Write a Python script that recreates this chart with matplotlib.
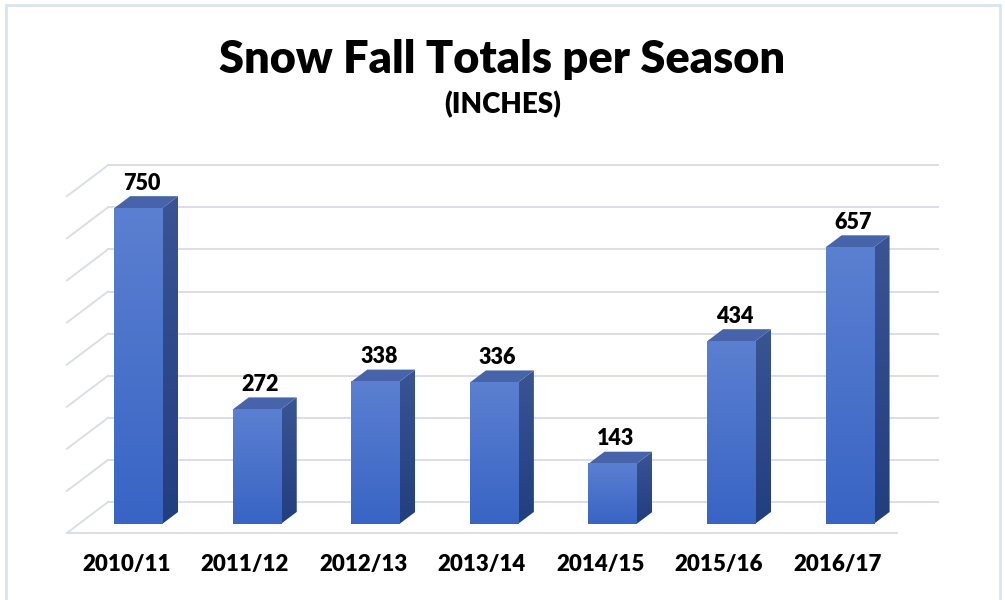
import numpy as np
import matplotlib
matplotlib.use("Agg")
import matplotlib.pyplot as plt
from matplotlib.patches import Polygon, Rectangle
from matplotlib.colors import LinearSegmentedColormap

# Data
seasons = ["2010/11", "2011/12", "2012/13", "2013/14", "2014/15", "2015/16", "2016/17"]
snowfall = [750, 272, 338, 336, 143, 434, 657]
grid_values = list(range(0, 900, 100))

title = "Snow Fall Totals per Season"
subtitle = "(INCHES)"

plt.rcParams['font.family'] = ['Lato', 'DejaVu Sans']

# oblique 3d look: depth offset in data units (category units, value units)
DX, DY = -0.346, -73.6
BAR_W = 0.405
FRONT, BACK = 0.71, 0.32

W, H = 1005, 600
PX_PER_CAT = 118.57
PX_PER_VAL = 0.421
X0_PX, Y0_PX = 108, 502   # back-wall origin in pixels

fig = plt.figure(figsize=(W / 100, H / 100), dpi=100)
ax = fig.add_axes([0, 0, 1, 1])
ax.set_xlim(-X0_PX / PX_PER_CAT, (W - X0_PX) / PX_PER_CAT)
ax.set_ylim((Y0_PX - H) / PX_PER_VAL, Y0_PX / PX_PER_VAL)
ax.axis('off')

# outer border
fig.patches.append(Rectangle((6 / W, -0.1), 994 / W, 1.1 - 5 / H, transform=fig.transFigure,
                             fill=False, ec='#dce3ec', lw=2))

grid_c = '#dadee5'
n = len(seasons)
for v in grid_values:
    ax.plot([0, n], [v, v], color=grid_c, lw=1.4, zorder=1)
    ax.plot([0, DX], [v, v + DY], color=grid_c, lw=1.4, zorder=1)
ax.plot([DX, n + DX], [DY, DY], color=grid_c, lw=1.4, zorder=1)

front_cmap = LinearSegmentedColormap.from_list('f', ['#3864c4', '#5b80d1'])
side_cmap = LinearSegmentedColormap.from_list('s', ['#213e7e', '#3a5494'])
grad = np.linspace(0, 1, 256).reshape(-1, 1)

for i, v in enumerate(snowfall):
    cx = i + 0.5
    L, R = cx - BAR_W / 2, cx + BAR_W / 2
    fx, fy = FRONT * DX, FRONT * DY
    bx, by = BACK * DX, BACK * DY

    # side face
    side = Polygon([(R + fx, fy), (R + fx, v + fy), (R + bx, v + by), (R + bx, by)],
                   closed=True, fc='none', ec='none', zorder=3)
    ax.add_patch(side)
    im = ax.imshow(grad, cmap=side_cmap, origin='lower', aspect='auto',
                   extent=(R + fx, R + bx, fy, v + by), zorder=3)
    im.set_clip_path(side)

    # top face
    ax.add_patch(Polygon([(L + fx, v + fy), (R + fx, v + fy), (R + bx, v + by), (L + bx, v + by)],
                         closed=True, fc='#4763aa', ec='none', zorder=4))

    # front face
    ax.imshow(grad, cmap=front_cmap, origin='lower', aspect='auto',
              extent=(L + fx, R + fx, fy, v + fy), zorder=5)

    ax.annotate(str(v), (cx + fx + 0.03, v + fy), xytext=(0, 18), textcoords='offset points',
                ha='center', va='center', fontsize=15.5, fontweight='heavy', color='#000000', zorder=6)
    ax.text(cx + DX, DY - 75, seasons[i], ha='center', va='center',
            fontsize=16, fontweight='heavy', color='#000000')

fig.text(0.5, 1 - 60 / H, title, ha='center', va='center', fontsize=32.5, fontweight='heavy')
fig.text(0.5, 1 - 105 / H, subtitle, ha='center', va='center', fontsize=20, fontweight='heavy')

fig.savefig('out.png', dpi=100)
